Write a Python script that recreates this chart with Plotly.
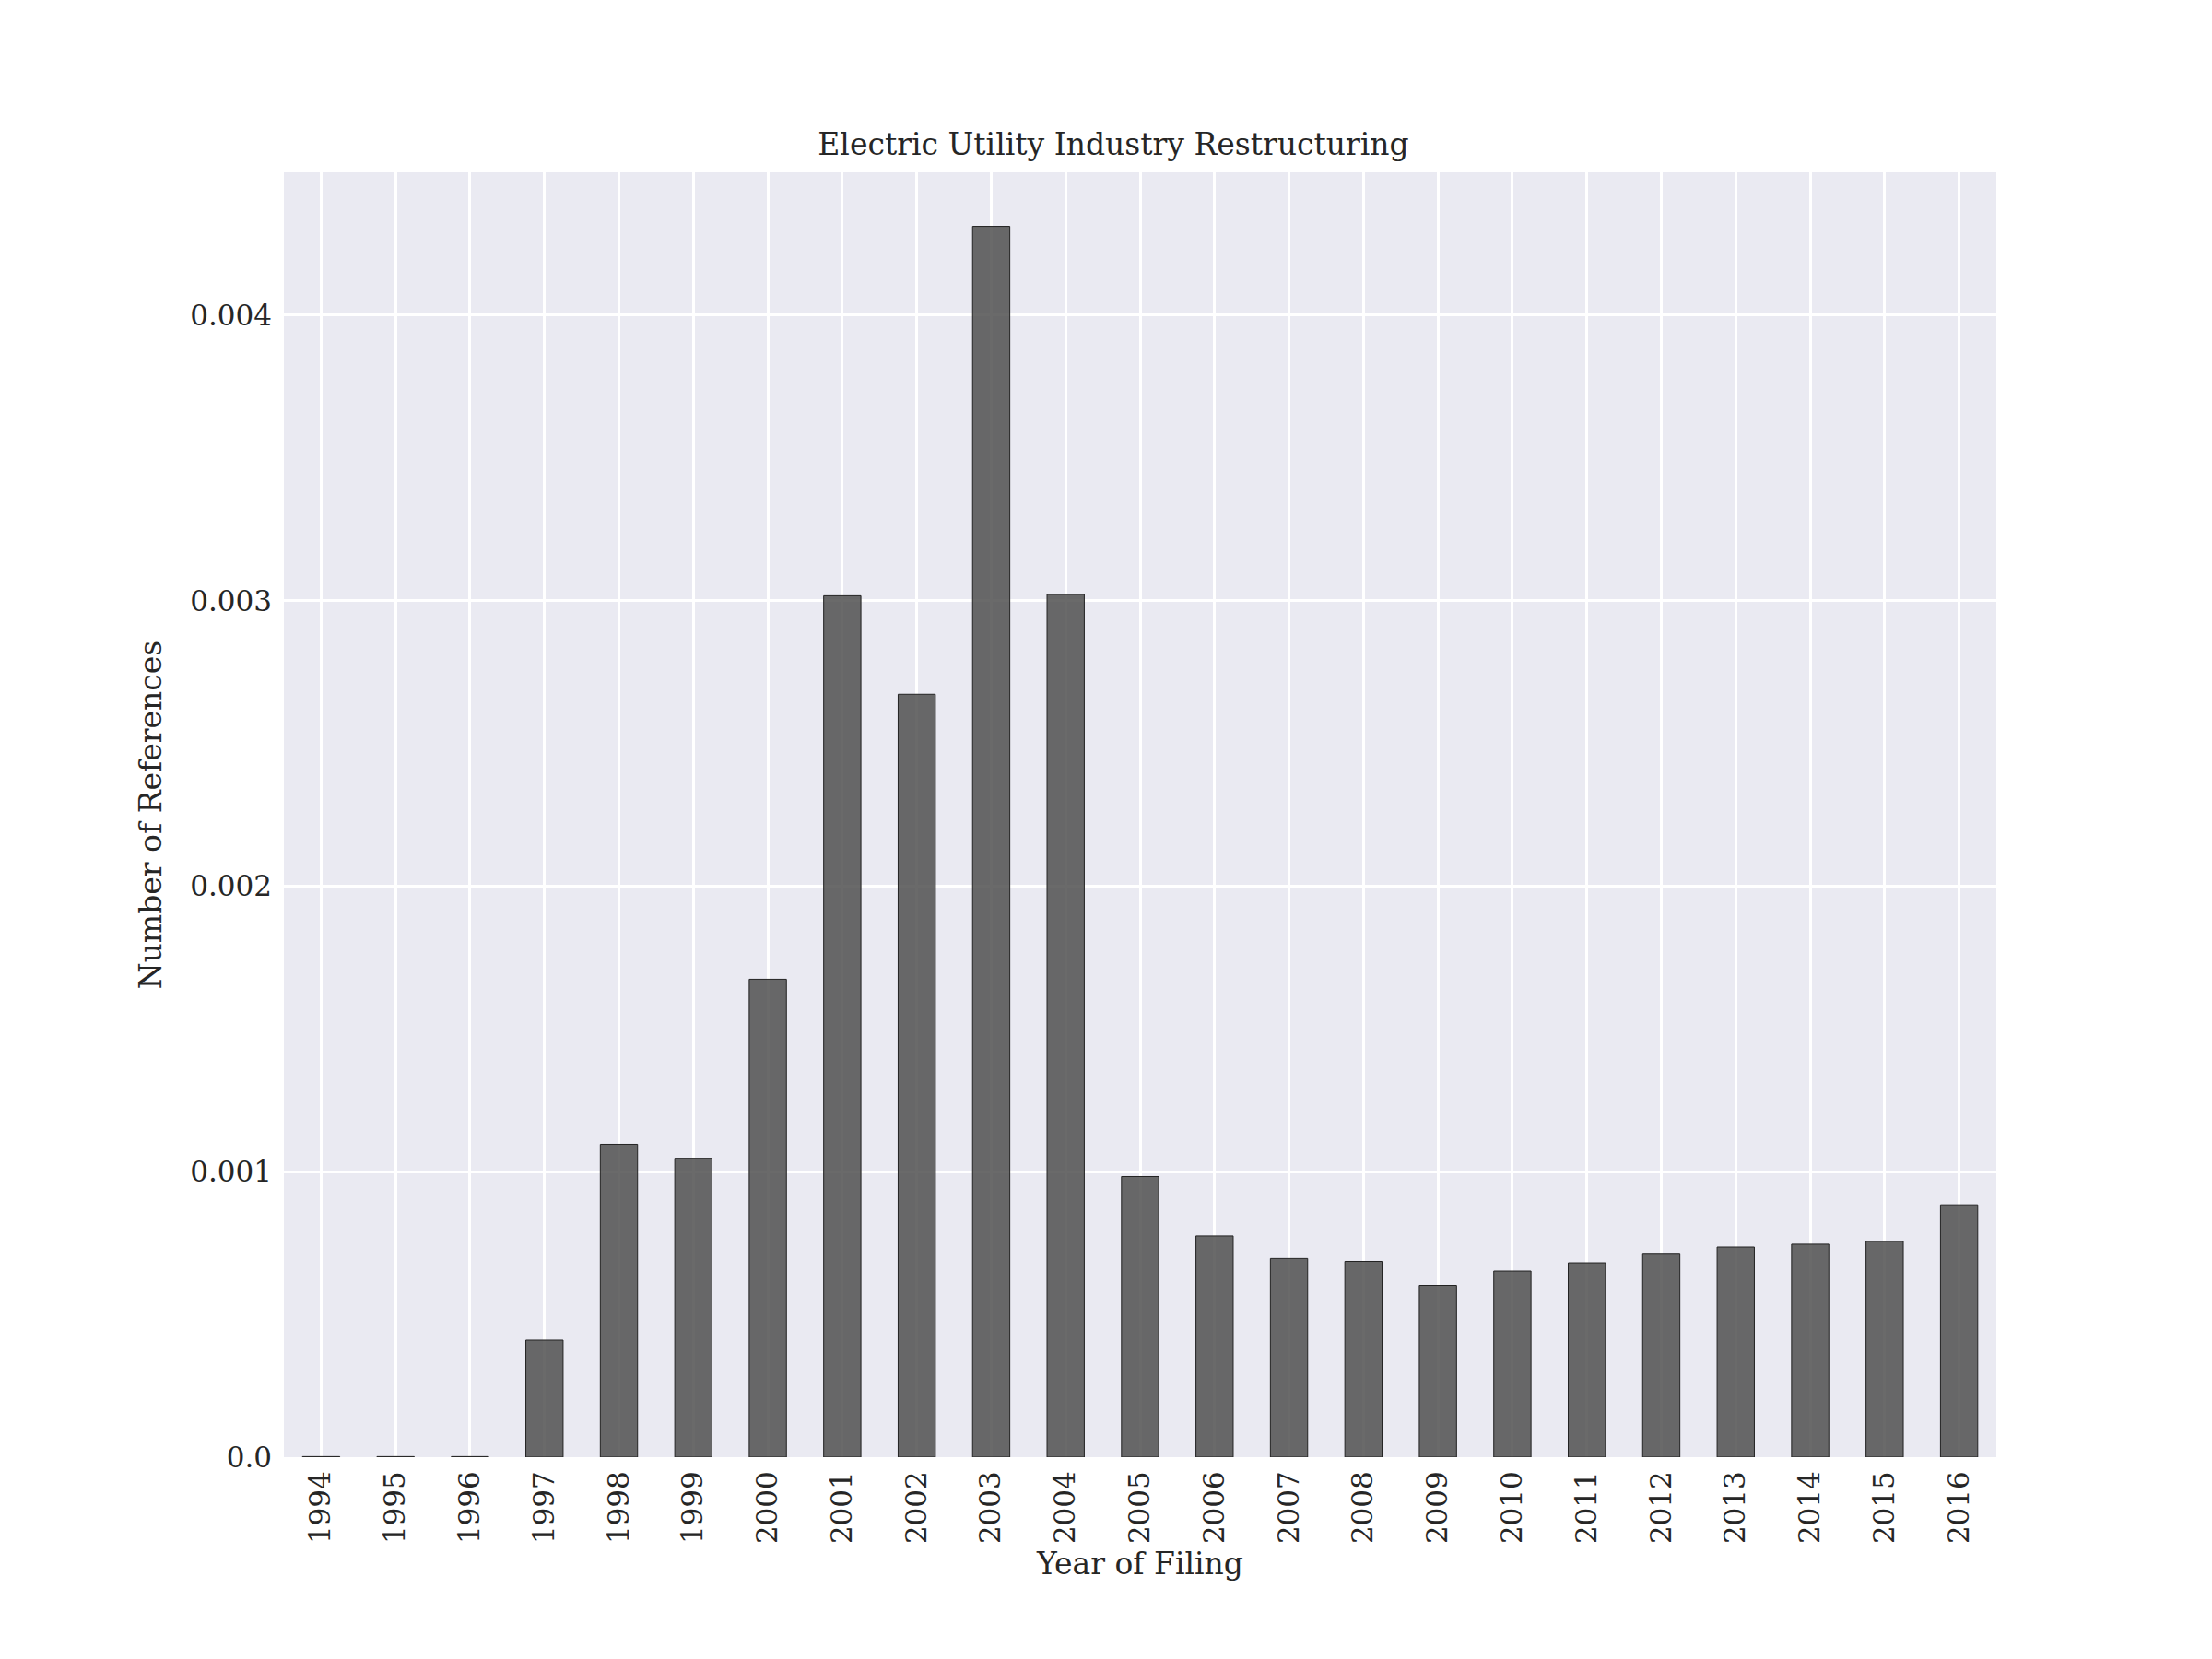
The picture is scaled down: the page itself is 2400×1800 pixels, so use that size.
import plotly.graph_objects as go

# Data
years = [str(y) for y in range(1994, 2017)]
refs = [0.000002, 0.000002, 0.000002, 0.00041, 0.001096, 0.001047, 0.001674,
        0.003017, 0.002672, 0.004311, 0.003022, 0.000983, 0.000775, 0.000696,
        0.000686, 0.000602, 0.000652, 0.000681, 0.000711, 0.000736, 0.000746,
        0.000756, 0.000884]
y_ticks = [0, 0.001, 0.002, 0.003, 0.004]
y_labels = ["0.0", "0.001", "0.002", "0.003", "0.004"]

fig = go.Figure()
fig.add_trace(go.Bar(
    x=years, y=refs, width=0.5,
    marker=dict(color="rgba(80,80,80,0.85)", line=dict(color="#222222", width=1)),
))

font = "DejaVu Serif, Liberation Serif, serif"
fig.update_layout(
    width=2400, height=1800,
    paper_bgcolor="white", plot_bgcolor="#EAEAF2",
    margin=dict(l=300, r=242, t=179, b=227),
    font=dict(family=font, size=31, color="#262626"),
    title=dict(text="Electric Utility Industry Restructuring", x=0.5, xanchor="center",
               y=1 - 148 / 1800, yanchor="middle", font=dict(size=33)),
    showlegend=False,
    bargap=0.5,
)
fig.update_xaxes(
    range=[-0.5, 22.5], tickangle=-90, showgrid=True, gridcolor="white", gridwidth=3,
    title=dict(text="Year of Filing", font=dict(size=33), standoff=10),
    ticks="", ticklabelstandoff=8,
)
fig.update_yaxes(
    range=[0, 0.0045], tickvals=y_ticks, ticktext=y_labels,
    showgrid=True, gridcolor="white", gridwidth=3, zeroline=False,
    title=dict(text="Number of References", font=dict(size=33), standoff=20),
    ticks="", ticklabelstandoff=12,
)

fig.write_html("out.html")
